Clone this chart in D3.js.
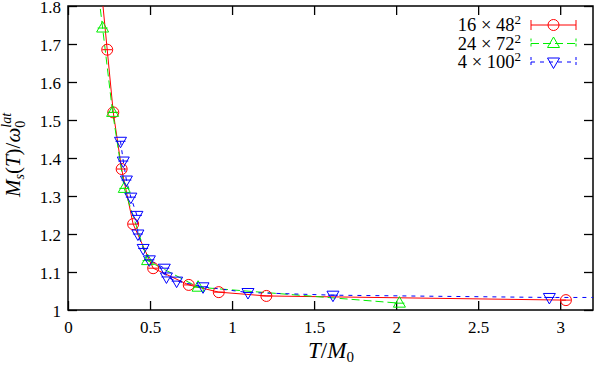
<!DOCTYPE html>
<html>
<head>
<meta charset="utf-8">
<script src="https://cdn.jsdelivr.net/npm/d3@7"></script>
<style>
  body { margin: 0; background: #fff; }
  svg { display: block; font-family: "Liberation Serif", serif; }
</style>
</head>
<body>
<svg id="chart" width="599" height="365"></svg>
<script>
// 16 x 48^2 (first point lies above the visible range, line runs off the top)
const redT = [0.200, 0.239, 0.276, 0.327, 0.397, 0.519, 0.736, 0.919, 1.209, 3.035];
const redM = [1.859, 1.685, 1.520, 1.371, 1.226, 1.110, 1.066, 1.047, 1.037, 1.026];
// 24 x 72^2
const greenT = [0.180, 0.211, 0.272, 0.343, 0.485, 0.793, 2.020];
const greenM = [1.855, 1.742, 1.520, 1.320, 1.130, 1.060, 1.018];
// 4 x 100^2 (last point lies right of the visible range)
const blueT = [0.320, 0.337, 0.356, 0.383, 0.420, 0.426, 0.458, 0.496, 0.587, 0.600, 0.662, 0.823, 1.097, 1.615, 2.934, 3.300];
const blueM = [1.444, 1.392, 1.342, 1.297, 1.249, 1.200, 1.162, 1.132, 1.110, 1.087, 1.076, 1.061, 1.046, 1.039, 1.033, 1.033];

const xTicks = [0, 0.5, 1, 1.5, 2, 2.5, 3];
const yTicks = [1, 1.1, 1.2, 1.3, 1.4, 1.5, 1.6, 1.7, 1.8];

const series = [
  { name: ['16 × 48', '2'], T: redT, M: redM, color: '#ff0000', dash: null, mark: 'circle' },
  { name: ['24 × 72', '2'], T: greenT, M: greenM, color: '#00ee00', dash: '8,4', mark: 'up' },
  { name: ['4 × 100', '2'], T: blueT, M: blueM, color: '#0000ff', dash: '4,5', mark: 'down' }
];

const svg = d3.select('#chart');
const L = 68, R = 593, T0 = 6, B = 310;
const serif = '"Liberation Serif", serif';

const x = d3.scaleLinear().domain([0, 3.2]).range([L, R]);
const y = d3.scaleLinear().domain([1, 1.8]).range([B, T0]);

svg.append('defs').append('clipPath').attr('id', 'plotclip')
  .append('rect').attr('x', L).attr('y', T0).attr('width', R - L).attr('height', B - T0);

// axes with inward ticks, mirrored on top and right
const tick = 9;
const axG = svg.append('g');
const axBottom = axG.append('g').attr('transform', `translate(0,${B})`)
  .call(d3.axisBottom(x).tickValues(xTicks).tickSize(-tick).tickFormat(d3.format('')));
axG.append('g').attr('transform', `translate(0,${T0})`)
  .call(d3.axisTop(x).tickValues(xTicks).tickSize(-tick).tickFormat(''));
const axLeft = axG.append('g').attr('transform', `translate(${L},0)`)
  .call(d3.axisLeft(y).tickValues(yTicks).tickSize(-tick).tickFormat(d => d === 1 ? '1' : d3.format('.1f')(d)));
axG.append('g').attr('transform', `translate(${R},0)`)
  .call(d3.axisRight(y).tickValues(yTicks).tickSize(-tick).tickFormat(''));

axG.selectAll('g').attr('font-family', serif).attr('font-size', 17);
axG.selectAll('.domain').remove();
axG.selectAll('.tick line').attr('stroke', '#000').attr('stroke-width', 1.3);
axG.selectAll('.tick text').attr('fill', '#000');
axBottom.selectAll('.tick text').attr('dy', null).attr('y', 23);
axLeft.selectAll('.tick text').attr('x', -7).attr('dy', '0.36em');

svg.append('rect').attr('x', L).attr('y', T0).attr('width', R - L).attr('height', B - T0)
  .attr('fill', 'none').attr('stroke', '#000').attr('stroke-width', 1.5);

// markers
function markPath(kind) {
  if (kind === 'up') return 'M0,-6.5L6,4L-6,4Z';
  if (kind === 'down') return 'M0,6.5L6,-4L-6,-4Z';
  return null;
}

function drawMark(g, s, px, py) {
  if (s.mark === 'circle') {
    g.append('circle').attr('cx', px).attr('cy', py).attr('r', 5.5)
      .attr('fill', 'none').attr('stroke', s.color).attr('stroke-width', 1);
  } else {
    g.append('path').attr('d', markPath(s.mark)).attr('transform', `translate(${px},${py})`)
      .attr('fill', 'none').attr('stroke', s.color).attr('stroke-width', 1);
  }
  // tiny y error bar: caps collapse into a short horizontal bar
  g.append('line').attr('x1', px - 5).attr('x2', px + 5).attr('y1', py).attr('y2', py)
    .attr('stroke', s.color).attr('stroke-width', 1);
}

const plot = svg.append('g').attr('clip-path', 'url(#plotclip)');
const line = d3.line().x(d => x(d[0])).y(d => y(d[1]));

series.forEach(s => {
  const pts = s.T.map((t, i) => [t, s.M[i]]);
  plot.append('path').datum(pts).attr('d', line)
    .attr('fill', 'none').attr('stroke', s.color).attr('stroke-width', 1)
    .attr('stroke-dasharray', s.dash);
});
series.forEach(s => {
  const g = plot.append('g');
  s.T.forEach((t, i) => drawMark(g, s, x(t), y(s.M[i])));
});

// legend
const leg = svg.append('g');
series.forEach((s, i) => {
  const ly = 25 + i * 18.5;
  const tx = leg.append('text').attr('x', 521).attr('y', ly + 6)
    .attr('text-anchor', 'end').style('font-size', '18.5px').attr('fill', '#000');
  tx.append('tspan').text(s.name[0]);
  tx.append('tspan').text(s.name[1]).attr('dy', -7).style('font-size', '13px');
  const x1 = 531, x2 = 576;
  leg.append('line').attr('x1', x1).attr('x2', x2).attr('y1', ly).attr('y2', ly)
    .attr('stroke', s.color).attr('stroke-width', 1).attr('stroke-dasharray', s.dash);
  [x1, x2].forEach(cx => leg.append('line').attr('x1', cx).attr('x2', cx)
    .attr('y1', ly - 5).attr('y2', ly + 5).attr('stroke', s.color).attr('stroke-width', 1)
    .attr('stroke-dasharray', s.dash ? '3,2' : null));
  const mx = (x1 + x2) / 2;
  if (s.mark === 'circle') {
    leg.append('circle').attr('cx', mx).attr('cy', ly).attr('r', 5.5)
      .attr('fill', 'none').attr('stroke', s.color);
  } else {
    leg.append('path').attr('d', markPath(s.mark)).attr('transform', `translate(${mx},${ly})`)
      .attr('fill', 'none').attr('stroke', s.color);
  }
});

// axis titles
const xl = svg.append('text').attr('x', 331).attr('y', 358).attr('text-anchor', 'middle')
  .style('font-size', '23px').attr('fill', '#000');
xl.append('tspan').text('T').style('font-style', 'italic');
xl.append('tspan').text('/');
xl.append('tspan').text('M').style('font-style', 'italic');
xl.append('tspan').text('0').attr('dy', 4).style('font-size', '15px');

const yl = svg.append('text').attr('transform', 'translate(20,155) rotate(-90)')
  .attr('text-anchor', 'middle').style('font-size', '21px').attr('fill', '#000');
yl.append('tspan').text('M').style('font-style', 'italic');
yl.append('tspan').text('s').attr('dy', 4).style('font-size', '14px').style('font-style', 'italic');
yl.append('tspan').text('(').attr('dy', -4);
yl.append('tspan').text('T').style('font-style', 'italic');
yl.append('tspan').text(')/');
yl.append('tspan').text('ω').style('font-style', 'italic');
yl.append('tspan').text('0').attr('dy', 5).style('font-size', '14px');
yl.append('tspan').text('lat').attr('dx', -7).attr('dy', -14).style('font-size', '14px').style('font-style', 'italic');
</script>
</body>
</html>
